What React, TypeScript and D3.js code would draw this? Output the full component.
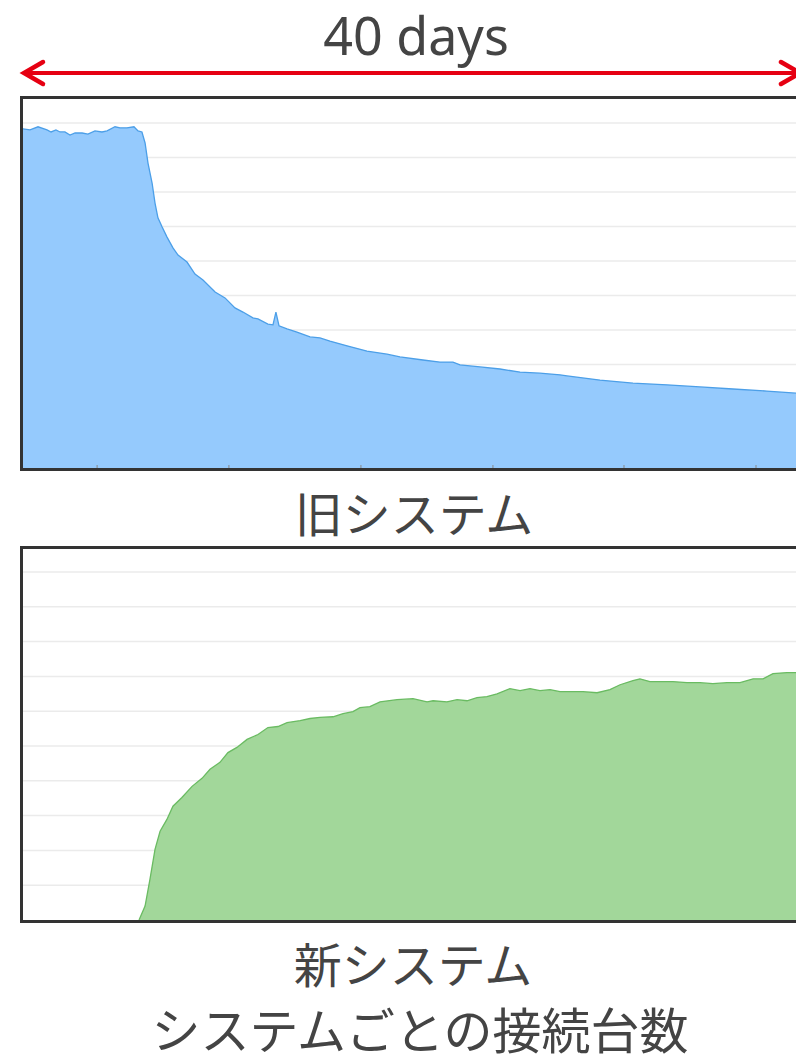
import React from "react";
import * as d3 from "d3";

// ---- data (day, connections) ----
const oldSystemDays = [0, 0.36, 0.77, 1.23, 1.44, 1.69, 1.9, 2.15, 2.41, 2.67, 3.03, 3.33, 3.69, 4.05, 4.31, 4.72, 4.97, 5.33, 5.69, 5.9, 6.1, 6.26, 6.41, 6.62, 6.77, 6.92, 7.13, 7.38, 7.69, 7.95, 8.41, 8.82, 9.23, 9.85, 10.36, 10.87, 11.28, 11.79, 12.05, 12.56, 12.82, 12.97, 13.13, 13.54, 14.05, 14.72, 15.23, 15.74, 16.62, 17.64, 18.67, 19.33, 20.51, 21.38, 22.05, 22.41, 23.44, 24.46, 25.49, 26.51, 27.54, 27.9, 29.59, 31.28, 33.03, 34.72, 36.41, 38.15, 39.64, 40];
const oldSystemValues = [983, 980, 989, 980, 974, 980, 974, 974, 965, 971, 971, 968, 977, 974, 977, 989, 986, 986, 989, 977, 974, 942, 884, 826, 768, 725, 699, 670, 638, 617, 597, 562, 545, 510, 493, 464, 452, 435, 432, 417, 415, 452, 412, 403, 394, 380, 377, 368, 354, 339, 330, 322, 313, 307, 307, 299, 293, 287, 278, 275, 270, 267, 255, 246, 241, 235, 229, 223, 217, 215];

const newSystemDays = [5.95, 6.26, 6.51, 6.77, 7.03, 7.38, 7.69, 8.15, 8.67, 9.18, 9.59, 10.1, 10.51, 10.97, 11.49, 12.05, 12.56, 13.08, 13.54, 14.21, 14.72, 15.23, 15.9, 16.41, 16.92, 17.28, 17.79, 18.31, 19.18, 20.0, 20.72, 21.03, 21.74, 22.26, 22.77, 23.28, 23.79, 24.31, 24.97, 25.49, 26.0, 26.51, 27.03, 27.54, 27.9, 28.72, 29.44, 30.1, 30.62, 31.28, 31.64, 32.15, 32.67, 33.33, 34.05, 34.72, 35.38, 36.1, 36.77, 37.44, 37.95, 38.46, 39.18, 39.64, 40];
const newSystemValues = [0, 40, 117, 203, 255, 289, 327, 352, 384, 407, 433, 453, 481, 496, 519, 533, 553, 556, 567, 573, 579, 582, 584, 593, 599, 610, 613, 627, 633, 636, 627, 630, 627, 633, 630, 639, 642, 650, 665, 659, 665, 659, 662, 656, 656, 656, 653, 662, 676, 688, 693, 685, 685, 685, 682, 682, 679, 682, 682, 693, 693, 708, 711, 711, 711];

const gridValues = [100, 200, 300, 400, 500, 600, 700, 800, 900, 1000];
const tickDays = [3.8, 10.56, 17.33, 24.1, 30.82, 37.59];

const spanLabel = "40 days";
const oldLabel = "旧システム";
const newLabel = "新システム";
const captionLabel = "システムごとの接続台数";

const W = 796;
const H = 1061;

type PanelProps = {
  id: string;
  days: number[];
  values: number[];
  top: number;
  base: number;
  grid1000: number;
  fill: string;
  stroke: string;
  ticks: boolean;
};

function Panel({ id, days, values, top, base, grid1000, fill, stroke, ticks }: PanelProps) {
  const x = d3.scaleLinear().domain([0, 40]).range([23, 803]);
  const y = d3.scaleLinear().domain([0, 1000]).range([base, grid1000]);
  const pts = days.map((d, i) => [d, values[i]] as [number, number]);
  const area = d3
    .area<[number, number]>()
    .x((p) => x(p[0]))
    .y0(y(0))
    .y1((p) => y(p[1]));
  const line = d3
    .line<[number, number]>()
    .x((p) => x(p[0]))
    .y((p) => y(p[1]));
  return (
    <g>
      <defs>
        <clipPath id={id}>
          <rect x={23} y={top} width={800} height={base - top} />
        </clipPath>
      </defs>
      <g clipPath={`url(#${id})`}>
        {gridValues.map((g) => (
          <line key={g} x1={23} x2={W} y1={y(g)} y2={y(g)} stroke="#ebebeb" strokeWidth={1.5} />
        ))}
        <path d={area(pts) || ""} fill={fill} />
        <path d={line(pts) || ""} fill="none" stroke={stroke} strokeWidth={1.3} />
        {ticks &&
          tickDays.map((t) => (
            <line key={t} x1={x(t)} x2={x(t)} y1={base - 3} y2={base} stroke="#888" strokeWidth={1} />
          ))}
      </g>
      <rect x={21.5} y={top - 1.5} width={820} height={base - top + 3} fill="none" stroke="#333" strokeWidth={3} />
    </g>
  );
}

export default function App() {
  const red = "#e60012";
  return (
    <svg
      width={W}
      height={H}
      style={{ position: "absolute", left: 0, top: 0, background: "#fff" }}
      fontFamily="'Noto Sans CJK JP', 'Noto Sans', sans-serif"
    >
      <rect x={0} y={0} width={W} height={H} fill="#fff" />
      <text x={416} y={55} textAnchor="middle" fontFamily="'Noto Sans', sans-serif" fontSize={52} fill="#444">
        {spanLabel}
      </text>
      <line x1={24} x2={800} y1={73} y2={73} stroke={red} strokeWidth={4} />
      <polyline points="43,62 24,73 43,84" fill="none" stroke={red} strokeWidth={4.5} strokeLinecap="round" />
      <polyline points="781,62 800,73 781,84" fill="none" stroke={red} strokeWidth={4.5} strokeLinecap="round" />

      <Panel id="clipOld" days={oldSystemDays} values={oldSystemValues} top={99} base={468} grid1000={123} fill="#95cafd" stroke="#4c9fe8" ticks={true} />
      <text x={414} y={532} textAnchor="middle" fontSize={48} fill="#444">{oldLabel}</text>

      <Panel id="clipNew" days={newSystemDays} values={newSystemValues} top={549} base={920} grid1000={572} fill="#a2d79a" stroke="#6abb62" ticks={false} />
      <text x={413} y={983} textAnchor="middle" fontSize={48} fill="#444">{newLabel}</text>
      <text x={420} y={1049} textAnchor="middle" fontSize={49} fill="#444">{captionLabel}</text>
    </svg>
  );
}
